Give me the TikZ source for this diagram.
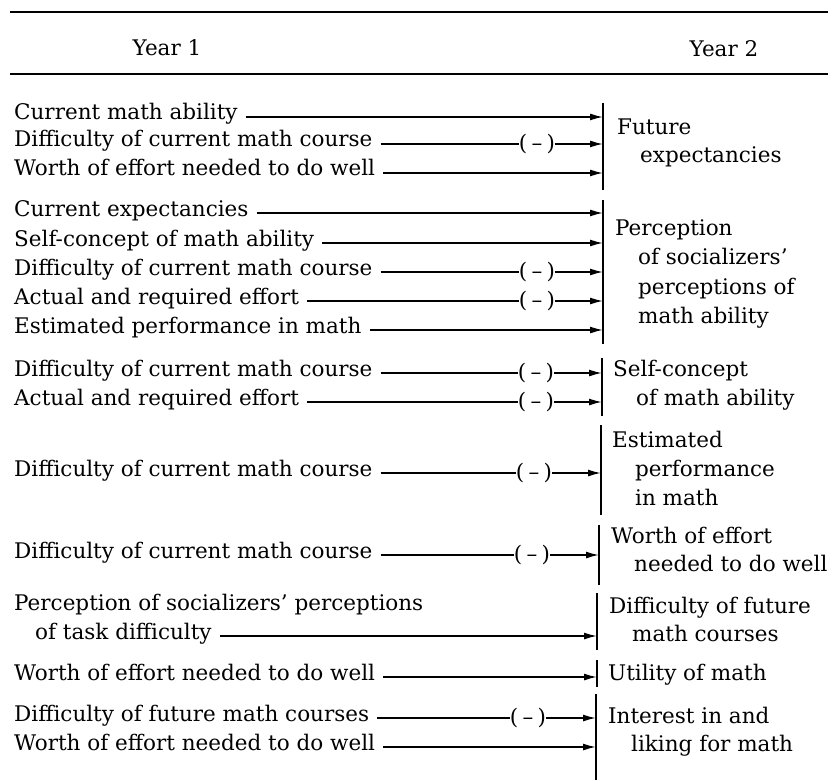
\documentclass[tikz,border=0pt]{standalone}
\usepackage{fontspec}
\setmainfont{DejaVu Serif}
\usetikzlibrary{arrows.meta}

\newcommand{\negsign}{(\hspace{0.2em}–\hspace{0.2em})}

\begin{document}
\begin{tikzpicture}[x=1pt,y=-1pt,
  every node/.style={font=\fontsize{21.5}{26}\selectfont, inner sep=0pt},
  txt/.style={anchor=west, text height=0.8em, text depth=0.2em},
  neg/.style={inner sep=0pt},
  arr/.style={line width=1.5pt, shorten <=8pt, -{Latex[length=13pt,width=7pt]}},
  narr/.style={line width=1.5pt, -{Latex[length=13pt,width=7pt]}},
  nlink/.style={line width=1.5pt, shorten <=8pt},
  bar/.style={line width=1.8pt},
  rule/.style={line width=1.8pt}]
\useasboundingbox (0,0) rectangle (828,781);

% header rules and column titles
\coordinate (r1a) at (10,12);  \coordinate (r1b) at (828,12);
\coordinate (r2a) at (10,74);  \coordinate (r2b) at (828,74);
\draw[rule] (r1a) -- (r1b);
\draw[rule] (r2a) -- (r2b);
\node (y1) at (167,48) {Year 1};
\node (y2) at (724,49) {Year 2};

% ---- group 1: future expectancies
\coordinate (g1t) at (603,103); \coordinate (g1b) at (603,190);
\draw[bar] (g1t) -- (g1b);
\node[txt] (a1) at (14,117) {Current math ability};
\node[txt] (a2) at (14,144) {Difficulty of current math course};
\node[txt] (a3) at (14,173) {Worth of effort needed to do well};
\node[neg] (n2) at (537,144) {\negsign};
\draw[arr] (a1.east) -- (a1.east -| g1t);
\draw[nlink] (a2.east) -- (n2.west);
\draw[narr] (n2.east) -- (n2.east -| g1t);
\draw[arr] (a3.east) -- (a3.east -| g1t);
\node[txt] (b1) at (617,132) {Future};
\node[txt] (b1b) at (640,160) {expectancies};

% ---- group 2: perception of socializers' perceptions of math ability
\coordinate (g2t) at (603,200); \coordinate (g2b) at (603,344);
\draw[bar] (g2t) -- (g2b);
\node[txt] (c1) at (14,213) {Current expectancies};
\node[txt] (c2) at (14,243) {Self-concept of math ability};
\node[txt] (c3) at (14,272) {Difficulty of current math course};
\node[txt] (c4) at (14,301) {Actual and required effort};
\node[txt] (c5) at (14,330) {Estimated performance in math};
\node[neg] (n3) at (537,272) {\negsign};
\node[neg] (n4) at (537,301) {\negsign};
\draw[arr] (c1.east) -- (c1.east -| g2t);
\draw[arr] (c2.east) -- (c2.east -| g2t);
\draw[nlink] (c3.east) -- (n3.west);
\draw[narr] (n3.east) -- (n3.east -| g2t);
\draw[nlink] (c4.east) -- (n4.west);
\draw[narr] (n4.east) -- (n4.east -| g2t);
\draw[arr] (c5.east) -- (c5.east -| g2t);
\node[txt] (d1) at (615,233) {Perception};
\node[txt] (d2) at (638,262) {of socializers’};
\node[txt] (d3) at (638,291) {perceptions of};
\node[txt] (d4) at (638,320) {math ability};

% ---- group 3: self-concept of math ability
\coordinate (g3t) at (602,358); \coordinate (g3b) at (602,416);
\draw[bar] (g3t) -- (g3b);
\node[txt] (e1) at (14,373) {Difficulty of current math course};
\node[txt] (e2) at (14,402) {Actual and required effort};
\node[neg] (n5) at (536,373) {\negsign};
\node[neg] (n6) at (536,402) {\negsign};
\draw[nlink] (e1.east) -- (n5.west);
\draw[narr] (n5.east) -- (n5.east -| g3t);
\draw[nlink] (e2.east) -- (n6.west);
\draw[narr] (n6.east) -- (n6.east -| g3t);
\node[txt] (f1) at (613,373) {Self-concept};
\node[txt] (f2) at (636,402) {of math ability};

% ---- group 4: estimated performance in math
\coordinate (g4t) at (601,425); \coordinate (g4b) at (601,515);
\draw[bar] (g4t) -- (g4b);
\node[txt] (h1) at (14,473) {Difficulty of current math course};
\node[neg] (n7) at (534,473) {\negsign};
\draw[nlink] (h1.east) -- (n7.west);
\draw[narr] (n7.east) -- (n7.east -| g4t);
\node[txt] (i1) at (612,444) {Estimated};
\node[txt] (i2) at (635,473) {performance};
\node[txt] (i3) at (635,502) {in math};

% ---- group 5: worth of effort needed to do well
\coordinate (g5t) at (599,525); \coordinate (g5b) at (599,585);
\draw[bar] (g5t) -- (g5b);
\node[txt] (j1) at (14,555) {Difficulty of current math course};
\node[neg] (n8) at (532,555) {\negsign};
\draw[nlink] (j1.east) -- (n8.west);
\draw[narr] (n8.east) -- (n8.east -| g5t);
\node[txt] (k1) at (611,540) {Worth of effort};
\node[txt] (k2) at (634,568) {needed to do well};

% ---- group 6: difficulty of future math courses
\coordinate (g6t) at (597,593); \coordinate (g6b) at (597,650);
\draw[bar] (g6t) -- (g6b);
\node[txt] (m1) at (14,607) {Perception of socializers’ perceptions};
\node[txt] (m2) at (35,636) {of task difficulty};
\draw[arr] (m2.east) -- (m2.east -| g6t);
\node[txt] (p1) at (609,610) {Difficulty of future};
\node[txt] (p2) at (632,638) {math courses};

% ---- group 7: utility of math
\coordinate (g7t) at (597,660); \coordinate (g7b) at (597,687);
\draw[bar] (g7t) -- (g7b);
\node[txt] (q1) at (14,677) {Worth of effort needed to do well};
\draw[arr] (q1.east) -- (q1.east -| g7t);
\node[txt] (r1) at (608,677) {Utility of math};

% ---- group 8: interest in and liking for math
\coordinate (g8t) at (596,694); \coordinate (g8b) at (596,780);
\draw[bar] (g8t) -- (g8b);
\node[txt] (s1) at (14,718) {Difficulty of future math courses};
\node[txt] (s2) at (14,747) {Worth of effort needed to do well};
\node[neg] (n9) at (528,718) {\negsign};
\draw[nlink] (s1.east) -- (n9.west);
\draw[narr] (n9.east) -- (n9.east -| g8t);
\draw[arr] (s2.east) -- (s2.east -| g8t);
\node[txt] (u1) at (608,720) {Interest in and};
\node[txt] (u2) at (631,748) {liking for math};
\end{tikzpicture}
\end{document}
